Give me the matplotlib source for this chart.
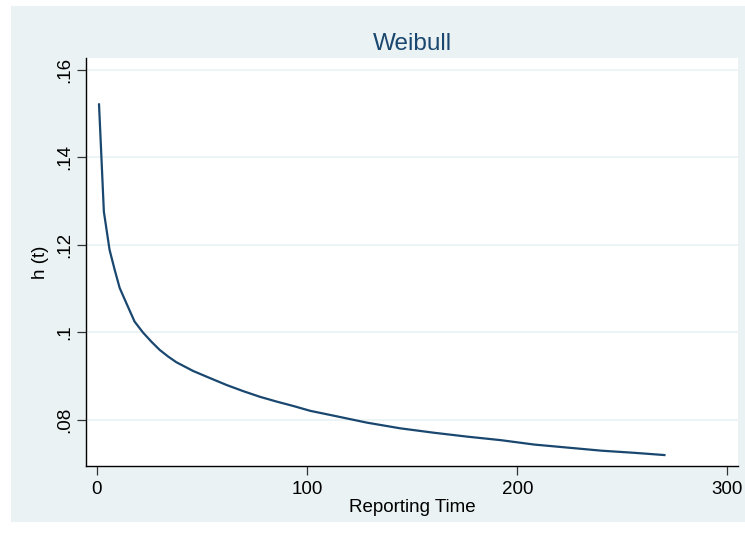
import matplotlib.pyplot as plt
from matplotlib.patches import Rectangle

# values
t_vals = [1, 3.3, 6, 8.4, 10.8, 14, 17.9, 21.9, 25.9, 29.9, 33.9, 37.8, 45.8,
          53.7, 61.7, 69.6, 77.6, 85.6, 93.5, 101.5, 112.6, 128.5, 144.4,
          160.3, 176.3, 192.2, 208, 224, 240, 256, 270]
h_vals = [0.1521, 0.1276, 0.1189, 0.1144, 0.1102, 0.1067, 0.1025, 0.1000,
          0.0979, 0.0960, 0.0945, 0.0932, 0.0912, 0.0896, 0.0880, 0.0866,
          0.0853, 0.0842, 0.0832, 0.0821, 0.0810, 0.0794, 0.0781, 0.0771,
          0.0762, 0.0754, 0.0744, 0.0737, 0.0730, 0.0725, 0.0720]
x_ticks = [0, 100, 200, 300]
y_ticks = [0.08, 0.10, 0.12, 0.14, 0.16]
y_ticklabels = ['.08', '.1', '.12', '.14', '.16']

plt.rcParams['font.family'] = ['Liberation Sans', 'DejaVu Sans']

navy = '#1A476F'
bg = '#EAF2F3'

fig = plt.figure(figsize=(7.45, 5.33), dpi=100, facecolor='white')
fig.patches.append(Rectangle((11 / 745, 1 - 522 / 533), 734 / 745, 516 / 533,
                             transform=fig.transFigure, facecolor=bg,
                             edgecolor='none', zorder=-1))

ax = fig.add_axes([86 / 745, 1 - 466 / 533, 652 / 745, 408 / 533])
ax.set_facecolor('white')
ax.plot(t_vals, h_vals, color=navy, linewidth=1.6)

ax.set_xlim(-5.2, 305)
ax.set_ylim(0.0695, 0.1627)
ax.set_xticks(x_ticks)
ax.set_yticks(y_ticks)
ax.set_yticklabels(y_ticklabels, rotation=90, va='center')
ax.grid(axis='y', color=bg, linewidth=1.2)
ax.set_axisbelow(True)

for s in ['top', 'right']:
    ax.spines[s].set_visible(False)
for s in ['left', 'bottom']:
    ax.spines[s].set_color('black')
    ax.spines[s].set_linewidth(1.0)

ax.tick_params(axis='both', direction='out', length=6.5, width=0.9,
               color='#333333', labelsize=13.5, labelcolor='black')
ax.tick_params(axis='x', pad=4)
ax.tick_params(axis='y', pad=3)

ax.set_xlabel('Reporting Time', fontsize=13.5, labelpad=1)
ax.set_ylabel('h (t)', fontsize=13.5, labelpad=5)
ax.set_title('Weibull', fontsize=17.5, color=navy, pad=6)

fig.savefig('out.png', dpi=100, facecolor=fig.get_facecolor())
